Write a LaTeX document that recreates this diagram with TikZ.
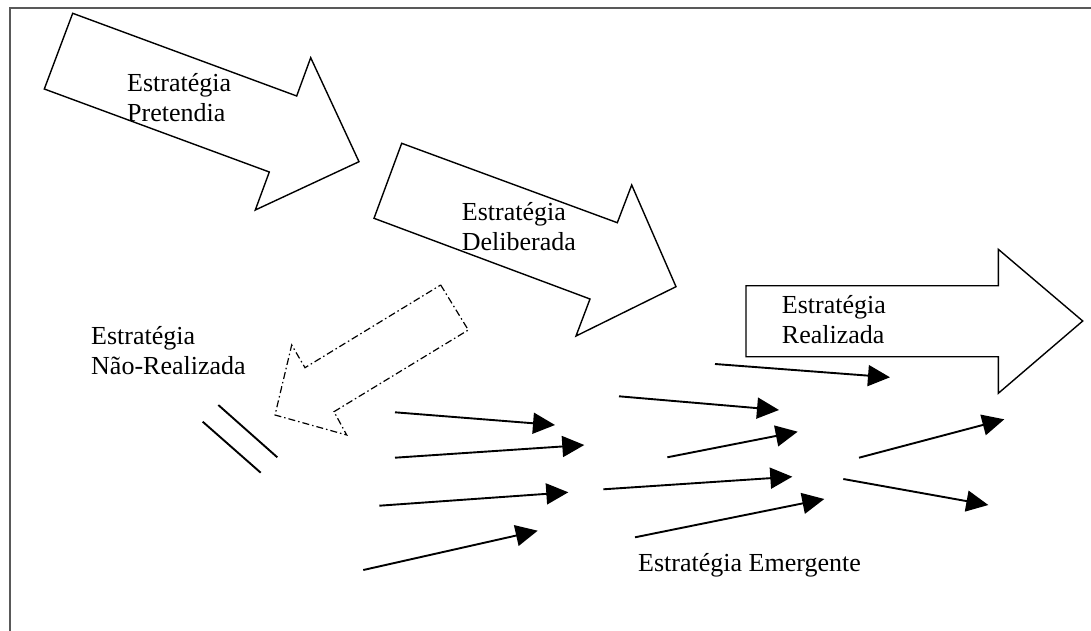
\documentclass[tikz,border=0pt]{standalone}
\usepackage{fontspec}
\setmainfont{Liberation Serif}
\usetikzlibrary{arrows.meta}
\begin{document}
\begin{tikzpicture}[x=1pt,y=-1pt,
  bigarrow/.style={draw=black,line width=1.4pt,line join=miter,fill=white},
  ghostarrow/.style={draw=black,line width=1.2pt,dash pattern=on 7pt off 3pt on 1.5pt off 3pt},
  flow/.style={line width=1.9pt,-{Triangle[length=22pt,width=21pt]}},
  bar/.style={line width=1.9pt},
  lbl/.style={font=\fontsize{26}{30}\selectfont,align=left,anchor=base west,inner sep=0pt},
  frameline/.style={draw=black!65,line width=1.5pt}]
\useasboundingbox (0,0) rectangle (1091,631);
% frame
\draw[frameline] (10,631) -- (10,8) -- (1091,8);
% Pretendia
\draw[bigarrow] (72.7,13.3) -- (296.7,96) -- (310.7,57.7) -- (359,161.7) -- (255.3,210) -- (269.3,172) -- (44.3,89) -- cycle;
% Deliberada
\draw[bigarrow] (401.7,143.3) -- (617.3,222.7) -- (631.7,185) -- (676,286.7) -- (576,336) -- (590,299) -- (374,218.3) -- cycle;
% Realizada
\draw[bigarrow] (746,285.7) -- (998.3,285.7) -- (998.3,249.3) -- (1082.7,321) -- (998.3,393.3) -- (998.3,356.7) -- (746,356.7) -- cycle;
% Nao-Realizada
\draw[ghostarrow] (440.7,285) -- (468.3,330) -- (334,411.7) -- (346.7,435) -- (275,415) -- (291.7,345) -- (305,367.7) -- cycle;
% bars
\draw[bar] (218.3,405) -- (277.3,457.3);
\draw[bar] (202.7,421.7) -- (260.7,472.7);
% labels (base anchor of a two-line node = baseline of its last line)
\node[lbl] (pret) at (127,122) {Estratégia\\Pretendia};
\node[lbl] (delib) at (461.7,250) {Estratégia\\Deliberada};
\node[lbl] (real) at (781.7,343) {Estratégia\\Realizada};
\node[lbl] (naoreal) at (91,374) {Estratégia\\Não-Realizada};
\node[lbl] (emerg) at (638,571) {Estratégia Emergente};
% emergent flows
\coordinate (a1s) at (395,412.3);   \coordinate (a1e) at (555,425);
\coordinate (a2s) at (395,457.7);   \coordinate (a2e) at (584.3,445);
\coordinate (a3s) at (379.3,505.7); \coordinate (a3e) at (568.3,492.3);
\coordinate (a4s) at (363.3,570);   \coordinate (a4e) at (537.7,530.7);
\coordinate (b1s) at (619,396.3);   \coordinate (b1e) at (779,410);
\coordinate (b2s) at (667.3,457.3); \coordinate (b2e) at (797.7,431.7);
\coordinate (b3s) at (603.3,489.3); \coordinate (b3e) at (792.3,476.7);
\coordinate (b4s) at (635,537.3);   \coordinate (b4e) at (824.3,499);
\coordinate (c1s) at (715,364);     \coordinate (c1e) at (890,377.3);
\coordinate (d1s) at (859,457.7);   \coordinate (d1e) at (1004.3,419.3);
\coordinate (d2s) at (843.3,479);   \coordinate (d2e) at (988.3,505);
\foreach \p in {a1,a2,a3,a4,b1,b2,b3,b4,c1,d1,d2}
  \draw[flow] (\p s) -- (\p e);
\end{tikzpicture}
\end{document}
